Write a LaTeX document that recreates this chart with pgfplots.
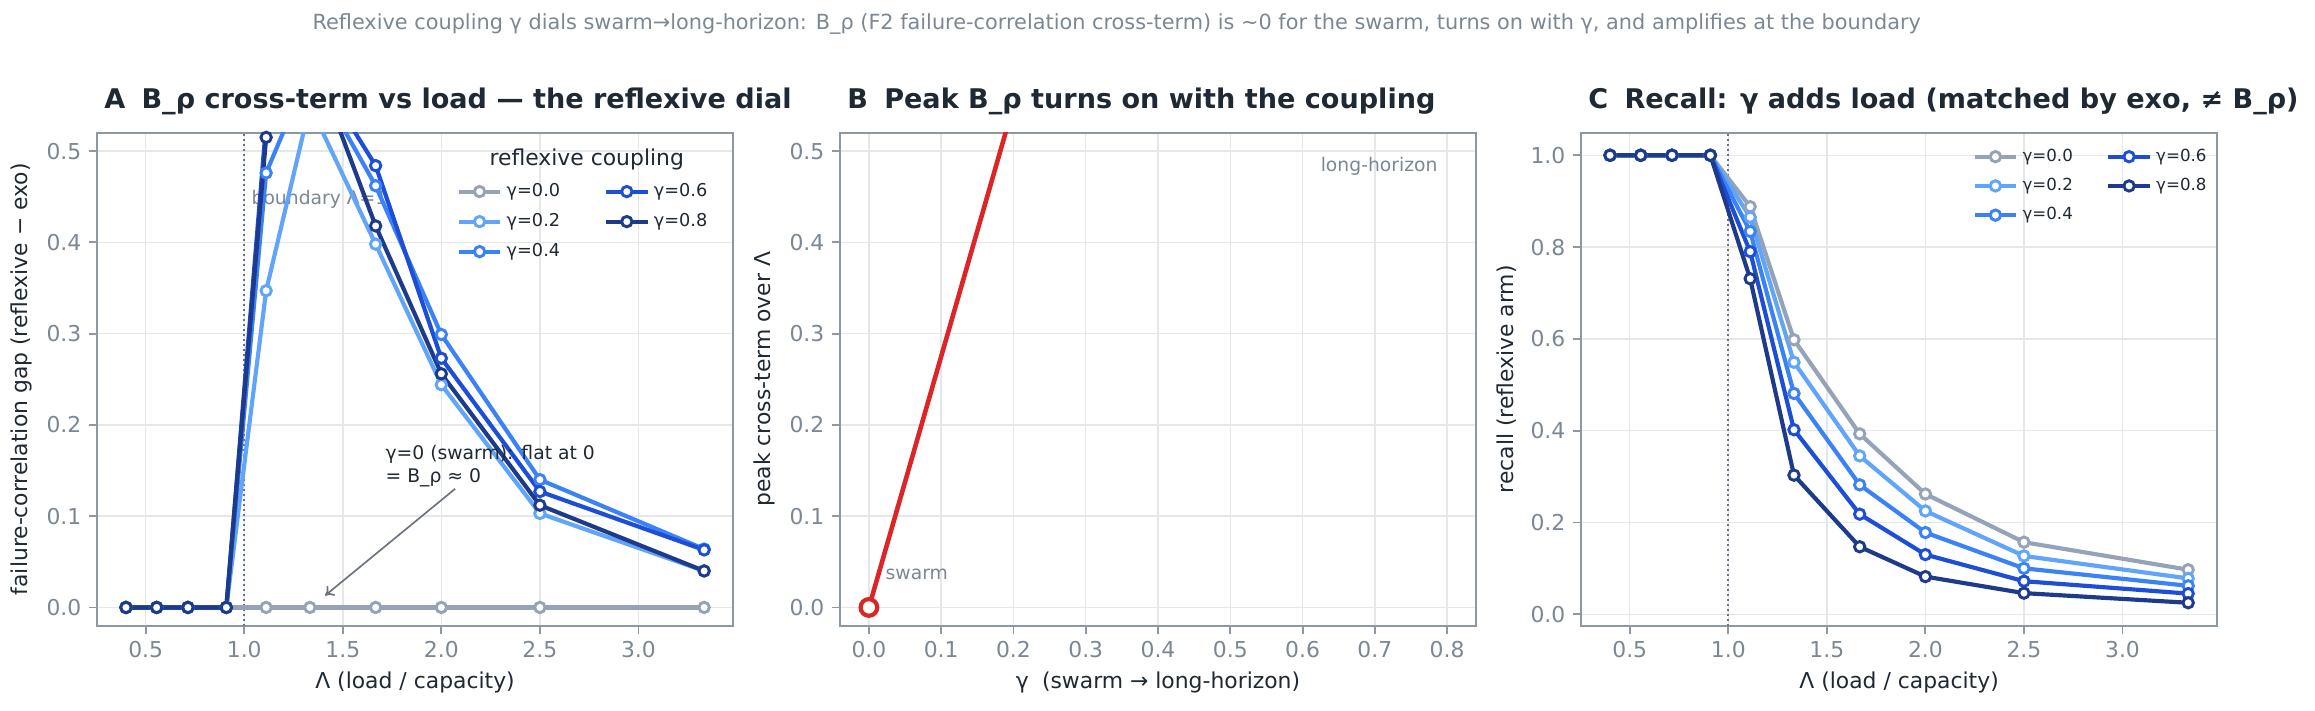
\documentclass[border=0pt]{standalone}
\usepackage{fontspec}
\setmainfont{DejaVu Sans}
\usepackage{pgfplots}
\pgfplotsset{compat=1.18}
\usepackage{pgfplotstable}
\usetikzlibrary{arrows.meta}

\definecolor{spine}{HTML}{8C98A4}
\definecolor{gridc}{HTML}{E5E7EB}
\definecolor{tickc}{HTML}{7B8794}
\definecolor{labc}{HTML}{1F2933}
\definecolor{note}{HTML}{7B8794}
\definecolor{bnd}{HTML}{64748B}
\definecolor{arrowc}{HTML}{6B7280}
\definecolor{redc}{HTML}{DC2626}
\definecolor{c0}{HTML}{94A3B8}
\definecolor{c2}{HTML}{60A5FA}
\definecolor{c4}{HTML}{3B82F6}
\definecolor{c6}{HTML}{1D4ED8}
\definecolor{c8}{HTML}{1E3A8A}

% load Lambda vs B_rho cross-term, one column per gamma
\pgfplotstableread{
L       g0  g2     g4     g6     g8
0.4     0   0      0      0      0
0.5556  0   0      0      0      0
0.7143  0   0      0      0      0
0.9091  0   0      0      0      0
1.1111  0   0.347  0.476  0.530  0.515
1.3333  0   0.550  0.590  0.600  0.610
1.6667  0   0.398  0.462  0.484  0.418
2.0     0   0.244  0.299  0.273  0.256
2.5     0   0.103  0.140  0.127  0.112
3.3333  0   0.040  0.064  0.063  0.040
}\brho

% peak cross-term over Lambda, per gamma
\pgfplotstableread{
g    peak
0.0  0.0
0.2  0.550
0.4  0.590
0.6  0.600
0.8  0.610
}\peak

% recall of the reflexive arm
\pgfplotstableread{
L       g0    g2    g4    g6    g8
0.4     1     1     1     1     1
0.5556  1     1     1     1     1
0.7143  1     1     1     1     1
0.9091  1     1     1     1     1
1.1111  0.888 0.865 0.834 0.790 0.731
1.3333  0.598 0.549 0.481 0.402 0.303
1.6667  0.393 0.345 0.282 0.218 0.147
2.0     0.262 0.225 0.178 0.130 0.082
2.5     0.157 0.127 0.100 0.072 0.046
3.3333  0.097 0.078 0.062 0.045 0.025
}\recall

\pgfplotsset{
  panel/.style={
    scale only axis, width=305.3pt, height=236.6pt,
    enlargelimits=false,
    axis line style={draw=spine, line width=0.9pt},
    grid=major, major grid style={draw=gridc, line width=0.7pt},
    tick style={draw=spine, line width=0.9pt},
    tick align=outside, major tick length=4pt,
    xtick pos=lower, ytick pos=left,
    tick label style={font=\fontsize{10.5}{12}\selectfont, text=tickc},
    label style={font=\fontsize{10.5}{12}\selectfont, text=labc},
    title style={font=\bfseries\fontsize{13}{15}\selectfont, text=labc,
      at={(0,1)}, anchor=base west, yshift=5.6pt},
    /pgf/number format/fixed, /pgf/number format/fixed zerofill,
    /pgf/number format/precision=1, /pgf/number format/assume math mode=true,
    legend image code/.code={
      \draw[#1, mark repeat=2, mark phase=2] plot coordinates {(0pt,0pt) (10pt,0pt) (20pt,0pt)};},
  },
  ser/.style={line width=2pt, draw=#1, mark=*, mark size=2.5pt,
    mark options={fill=white, draw=#1, line width=1.4pt}},
}

\begin{document}
\begin{tikzpicture}
\useasboundingbox (0,0) rectangle (1111.2pt,340.8pt);

\node[font=\fontsize{10}{12}\selectfont, text=note] at (536pt,329.3pt)
  {Reflexive coupling γ dials swarm→long-horizon: B\_ρ (F2 failure-correlation cross-term) is \textasciitilde0 for the swarm, turns on with γ, and amplifies at the boundary};

% ---- A
\begin{axis}[panel, at={(46.56pt,40.46pt)}, anchor=south west,
  xmin=0.253, xmax=3.48, ymin=-0.02, ymax=0.52,
  xtick={0.5,1.0,1.5,2.0,2.5,3.0}, ytick={0,0.1,0.2,0.3,0.4,0.5},
  title={A\hspace{0.6em}B\_ρ cross-term vs load — the reflexive dial},
  xlabel={Λ (load / capacity)},
  ylabel={failure-correlation gap (reflexive − exo)},
  legend style={at={(0.555,0.915)}, anchor=north west, draw=none, fill=none,
    font=\fontsize{8.5}{10}\selectfont, text=labc, row sep=2.6pt,
    /tikz/every even column/.append style={column sep=19pt}},
  legend columns=2, legend cell align=left,
]
\draw[bnd, line width=0.9pt, dash pattern=on 1pt off 1.4pt] (axis cs:1,-0.02) -- (axis cs:1,0.52);
\node[anchor=west, text=note, font=\fontsize{9}{11}\selectfont] at (axis cs:1.0,0.447) {boundary Λ=1};
\addplot[ser=c0, forget plot] table[x=L, y=g0] {\brho};
\addplot[ser=c2, forget plot] table[x=L, y=g2] {\brho};
\addplot[ser=c4, forget plot] table[x=L, y=g4] {\brho};
\addplot[ser=c6, forget plot] table[x=L, y=g6] {\brho};
\addplot[ser=c8, forget plot] table[x=L, y=g8] {\brho};
\addlegendimage{ser=c0}\addlegendentry{γ=0.0}
\addlegendimage{ser=c6}\addlegendentry{γ=0.6}
\addlegendimage{ser=c2}\addlegendentry{γ=0.2}
\addlegendimage{ser=c8}\addlegendentry{γ=0.8}
\addlegendimage{ser=c4}\addlegendentry{γ=0.4}
\node[text=labc, font=\fontsize{10.5}{12}\selectfont] at (rel axis cs:0.77,0.945) {reflexive coupling};
\node[anchor=west, align=left, text=labc, font=\fontsize{9}{11}\selectfont] at (axis cs:1.68,0.155)
  {γ=0 (swarm): flat at 0\\= B\_ρ ≈ 0};
\draw[arrowc, line width=0.8pt, -{To[length=4pt,width=6pt]}] (axis cs:2.07,0.13) -- (axis cs:1.41,0.013);
\end{axis}

% ---- B
\begin{axis}[panel, at={(403.2pt,40.46pt)}, anchor=south west,
  xmin=-0.04, xmax=0.84, ymin=-0.02, ymax=0.52,
  xtick={0,0.1,0.2,0.3,0.4,0.5,0.6,0.7,0.8}, ytick={0,0.1,0.2,0.3,0.4,0.5},
  title={B\hspace{0.6em}Peak B\_ρ turns on with the coupling},
  xlabel={γ\hspace{0.6em}(swarm → long-horizon)},
  ylabel={peak cross-term over Λ},
]
\addplot[line width=2.2pt, draw=redc, mark=*, mark size=4pt,
  mark options={fill=white, draw=redc, line width=2pt}] table[x=g, y=peak] {\peak};
\node[anchor=west, text=note, font=\fontsize{9}{11}\selectfont] at (axis cs:0.615,0.483) {long-horizon};
\node[anchor=west, text=note, font=\fontsize{9}{11}\selectfont] at (axis cs:0.013,0.036) {swarm};
\end{axis}

% ---- C
\begin{axis}[panel, at={(758.9pt,40.46pt)}, anchor=south west,
  xmin=0.253, xmax=3.48, ymin=-0.025, ymax=1.049,
  xtick={0.5,1.0,1.5,2.0,2.5,3.0}, ytick={0,0.2,0.4,0.6,0.8,1.0},
  title={C\hspace{0.6em}Recall: γ adds load (matched by exo, ≠ B\_ρ)},
  xlabel={Λ (load / capacity)},
  ylabel={recall (reflexive arm)},
  legend style={at={(0.605,0.985)}, anchor=north west, draw=none, fill=none,
    font=\fontsize{8}{9.5}\selectfont, text=labc, row sep=2.6pt,
    /tikz/every even column/.append style={column sep=14pt}},
  legend columns=2, legend cell align=left,
]
\draw[bnd, line width=0.9pt, dash pattern=on 1pt off 1.4pt] (axis cs:1,-0.025) -- (axis cs:1,1.049);
\addplot[ser=c0, forget plot] table[x=L, y=g0] {\recall};
\addplot[ser=c2, forget plot] table[x=L, y=g2] {\recall};
\addplot[ser=c4, forget plot] table[x=L, y=g4] {\recall};
\addplot[ser=c6, forget plot] table[x=L, y=g6] {\recall};
\addplot[ser=c8, forget plot] table[x=L, y=g8] {\recall};
\addlegendimage{ser=c0}\addlegendentry{γ=0.0}
\addlegendimage{ser=c6}\addlegendentry{γ=0.6}
\addlegendimage{ser=c2}\addlegendentry{γ=0.2}
\addlegendimage{ser=c8}\addlegendentry{γ=0.8}
\addlegendimage{ser=c4}\addlegendentry{γ=0.4}
\end{axis}
\end{tikzpicture}
\end{document}
